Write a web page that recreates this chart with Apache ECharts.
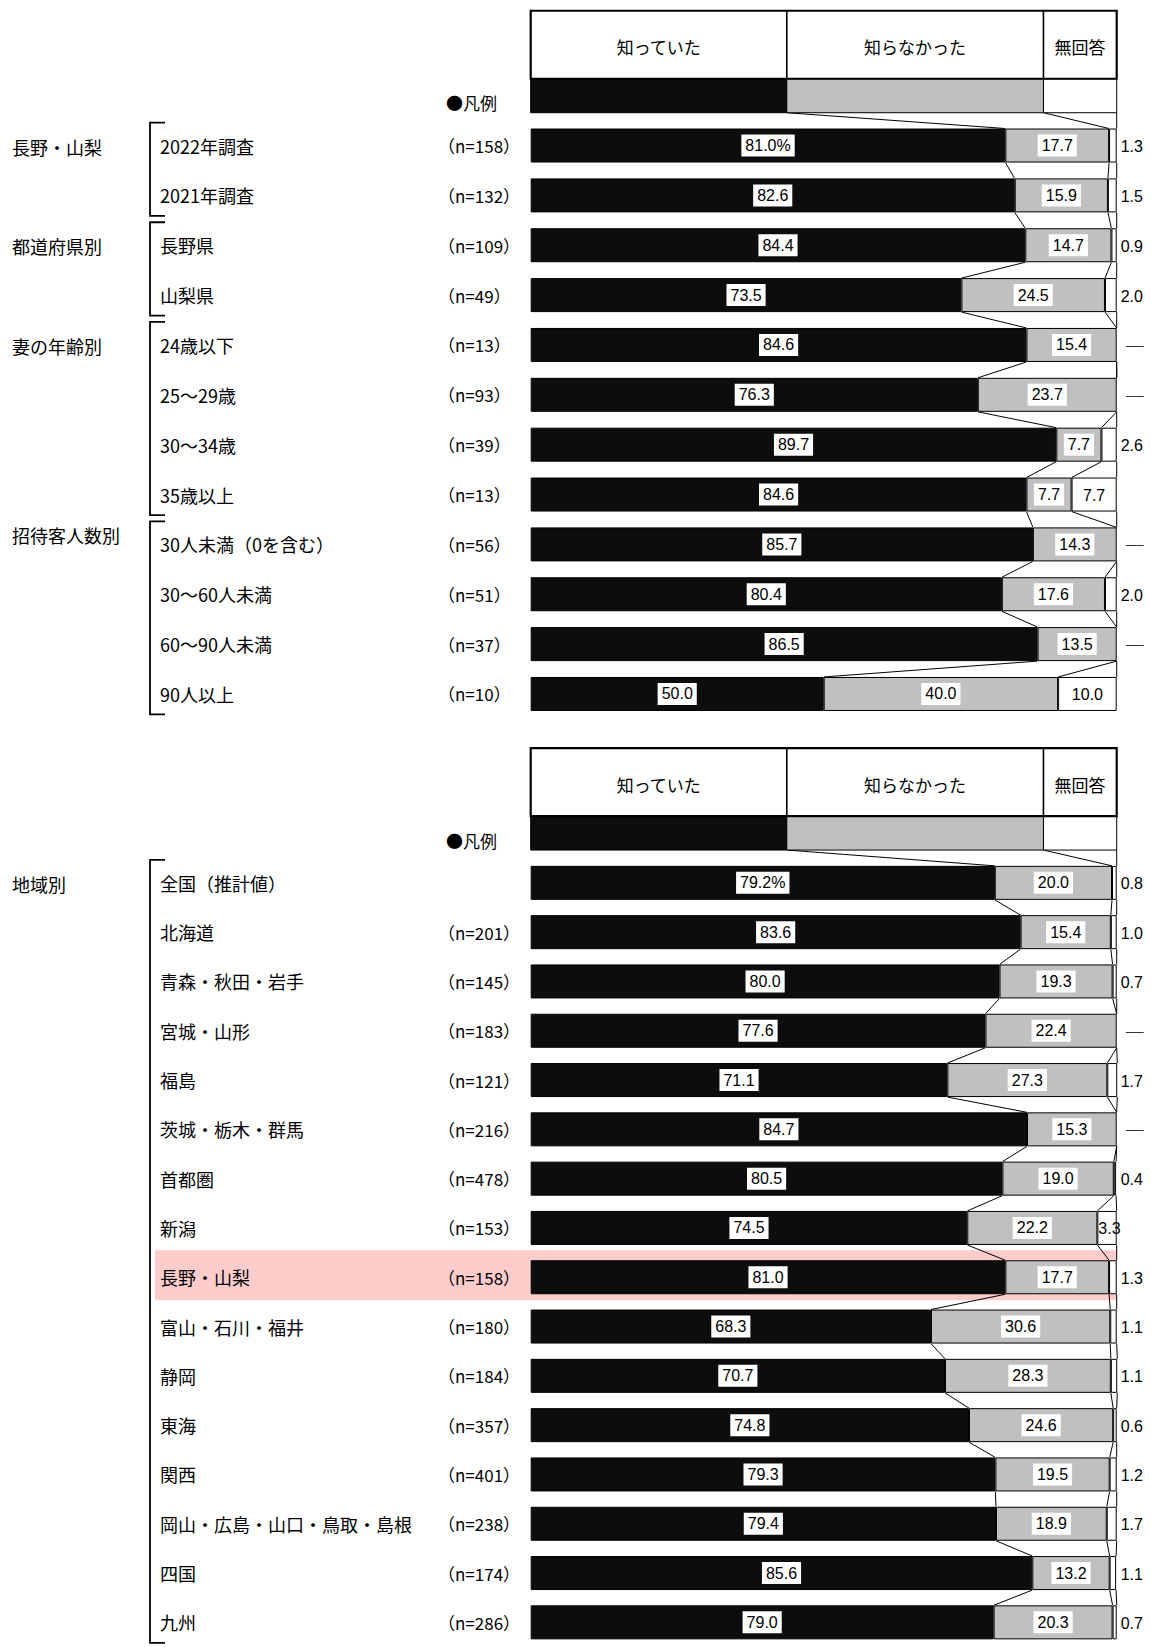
<!DOCTYPE html>
<html><head><meta charset="utf-8">
<script src="https://cdn.jsdelivr.net/npm/echarts@6/dist/echarts.min.js"></script>
<style>html,body{margin:0;padding:0;background:#fff}#c{width:1151px;height:1647px}</style>
</head><body><div id="c"></div>
<script>
// ---------- DATA ----------
const headerLabels = ['知っていた', '知らなかった', '無回答'];
const legendShares = [43.7, 43.8, 12.5];

const topCategories = ['2022年調査','2021年調査','長野県','山梨県','24歳以下','25～29歳','30～34歳','35歳以上','30人未満（0を含む）','30～60人未満','60～90人未満','90人以上'];
const topN = [158,132,109,49,13,93,39,13,56,51,37,10];
const topKnew = [81.0,82.6,84.4,73.5,84.6,76.3,89.7,84.6,85.7,80.4,86.5,50.0];
const topDidNot = [17.7,15.9,14.7,24.5,15.4,23.7,7.7,7.7,14.3,17.6,13.5,40.0];
const topNoAns = [1.3,1.5,0.9,2.0,0,0,2.6,7.7,0,2.0,0,10.0];
const topGroupNames = ['長野・山梨','都道府県別','妻の年齢別','招待客人数別'];
const topGroupStart = [0,2,4,8];
const topGroupEnd = [1,3,7,11];

const bottomCategories = ['全国（推計値）','北海道','青森・秋田・岩手','宮城・山形','福島','茨城・栃木・群馬','首都圏','新潟','長野・山梨','富山・石川・福井','静岡','東海','関西','岡山・広島・山口・鳥取・島根','四国','九州'];
const bottomN = [null,201,145,183,121,216,478,153,158,180,184,357,401,238,174,286];
const bottomKnew = [79.2,83.6,80.0,77.6,71.1,84.7,80.5,74.5,81.0,68.3,70.7,74.8,79.3,79.4,85.6,79.0];
const bottomDidNot = [20.0,15.4,19.3,22.4,27.3,15.3,19.0,22.2,17.7,30.6,28.3,24.6,19.5,18.9,13.2,20.3];
const bottomNoAns = [0.8,1.0,0.7,0,1.7,0,0.4,3.3,1.3,1.1,1.1,0.6,1.2,1.7,1.1,0.7];
const bottomGroupNames = ['地域別'];
const bottomGroupStart = [0];
const bottomGroupEnd = [15];
const highlightCategory = '長野・山梨';

// ---------- LAYOUT ----------
const GRID_LEFT = 530.7, GRID_RIGHT = 34.3;
const BAR_H = 34;
const JP = '"Noto Sans CJK JP", sans-serif';
const NUM = '"Liberation Sans", Arial, sans-serif';
const BLACK = '#0d0d0d', GRAY = '#c0c0c0';

const chart = echarts.init(document.getElementById('c'), null, {renderer: 'svg'});

function txt(text, x, y, align, font) {
  return {type: 'text', style: {text, x, y, align, verticalAlign: 'middle',
    textAlign: align, textVerticalAlign: 'middle', font, fill: '#000'}};
}

function decorRenderer(knew, didnot, noans) {
  return function (params, api) {
    const i = api.value(1);
    const X = v => api.coord([v, i])[0];
    const cy = api.coord([0, i])[1];
    const top = cy - BAR_H / 2;
    const ch = [];
    const cur = [knew[i], knew[i] + didnot[i], knew[i] + didnot[i] + noans[i]];
    let prev, prevY;
    if (i === 0) {
      prev = [legendShares[0], legendShares[0] + legendShares[1], 100];
      prevY = top - 15.8;
    } else {
      prev = [knew[i-1], knew[i-1] + didnot[i-1], knew[i-1] + didnot[i-1] + noans[i-1]];
      prevY = api.coord([0, i - 1])[1] + BAR_H / 2;
    }
    for (let k = 0; k < 3; k++) {
      ch.push({type: 'line', shape: {x1: X(prev[k]), y1: prevY, x2: X(cur[k]), y2: top},
               style: {stroke: '#000', lineWidth: 1}});
    }
    // no-answer label
    const v = noans[i];
    if (v === 0) ch.push(txt('─', X(100) + 9, cy, 'left', '18px ' + JP));
    else if (v >= 5) ch.push(txt(v.toFixed(1), (X(cur[1]) + X(cur[2])) / 2, cy + 1, 'center', '16px ' + NUM));
    else if (v >= 3) ch.push(txt(v.toFixed(1), X(cur[1]) + 1, cy + 1, 'left', '16px ' + NUM));
    else ch.push(txt(v.toFixed(1), X(100) + 4, cy + 1, 'left', '16px ' + NUM));

    if (i === 0) {
      const hTop = top - 117.8, hBot = top - 49.8, lBot = top - 15.8;
      const b = [0, legendShares[0], legendShares[0] + legendShares[1], 100];
      ch.push({type: 'rect', shape: {x: X(b[0]), y: hBot, width: X(b[1]) - X(b[0]), height: lBot - hBot}, style: {fill: BLACK, stroke: '#000', lineWidth: 1}});
      ch.push({type: 'rect', shape: {x: X(b[1]), y: hBot, width: X(b[2]) - X(b[1]), height: lBot - hBot}, style: {fill: GRAY, stroke: '#000', lineWidth: 1}});
      ch.push({type: 'rect', shape: {x: X(b[2]), y: hBot, width: X(b[3]) - X(b[2]), height: lBot - hBot}, style: {fill: '#fff', stroke: '#000', lineWidth: 1}});
      ch.push({type: 'rect', shape: {x: X(0), y: hTop, width: X(100) - X(0), height: hBot - hTop}, style: {fill: '#fff', stroke: '#000', lineWidth: 2.2}});
      ch.push({type: 'line', shape: {x1: X(b[1]), y1: hTop, x2: X(b[1]), y2: hBot}, style: {stroke: '#000', lineWidth: 1.6}});
      ch.push({type: 'line', shape: {x1: X(b[2]), y1: hTop, x2: X(b[2]), y2: hBot}, style: {stroke: '#000', lineWidth: 1.6}});
      for (let k = 0; k < 3; k++) {
        ch.push(txt(headerLabels[k], (X(b[k]) + X(b[k+1])) / 2, (hTop + hBot) / 2 + 2, 'center', '17px ' + JP));
      }
      ch.push(txt('●凡例', 446, lBot - 10, 'left', '17px ' + JP));
    }
    return {type: 'group', children: ch};
  };
}

function bracketRenderer(names, starts, ends, shifts) {
  return function (params, api) {
    const g = api.value(2);
    const y0 = api.coord([0, starts[g]])[1];
    const y1 = api.coord([0, ends[g]])[1];
    const t = y0 - 23, bm = y1 + 20.5;
    return {type: 'group', children: [
      {type: 'polyline', shape: {points: [[165, t], [150, t], [150, bm], [165, bm]]}, style: {stroke: '#000', lineWidth: 1.8, fill: null}},
      txt(names[g], 12, y0 + 1 + (shifts[g] || 0), 'left', '18px ' + JP)
    ]};
  };
}

function barLabel(pct) {
  return {show: true, position: 'inside', color: '#000', backgroundColor: '#fff', padding: [3, 4],
    fontSize: 16, fontFamily: NUM,
    formatter: p => (pct && p.dataIndex === 0) ? p.value.toFixed(1) + '%' : p.value.toFixed(1)};
}

function yAxisFor(gi, cats, ns) {
  return {type: 'category', gridIndex: gi, data: cats, inverse: true, z: 3,
    axisLine: {show: false}, axisTick: {show: false},
    axisLabel: {interval: 0, align: 'left', margin: GRID_LEFT - 160, color: '#000',
      formatter: (val, idx) => '{a|' + val + '}' + (ns[idx] != null ? '{b|（n=' + ns[idx] + '）}' : ''),
      rich: {a: {width: 278, fontSize: 18, fontFamily: JP, color: '#000'},
             b: {fontSize: 17, fontFamily: JP, color: '#000'}}}};
}

function barsFor(gi, stack, knew, didnot, noans) {
  return [
    {type: 'bar', xAxisIndex: gi, yAxisIndex: gi, stack, barWidth: BAR_H, z: 2,
     itemStyle: {color: BLACK, borderColor: '#000', borderWidth: 1}, label: barLabel(true), data: knew},
    {type: 'bar', xAxisIndex: gi, yAxisIndex: gi, stack, barWidth: BAR_H, z: 2,
     itemStyle: {color: GRAY, borderColor: '#000', borderWidth: 1}, label: barLabel(false), data: didnot},
    {type: 'bar', xAxisIndex: gi, yAxisIndex: gi, stack, barWidth: BAR_H, z: 2,
     itemStyle: {color: '#fff', borderColor: '#000', borderWidth: 1}, label: {show: false},
     data: noans.map(v => v === 0 ? '-' : v)},
    {type: 'custom', xAxisIndex: gi, yAxisIndex: gi, z: 4, silent: true, clip: false,
     renderItem: decorRenderer(knew, didnot, noans), encode: {x: 0, y: 1},
     data: knew.map((_, i) => [0, i])}
  ];
}

const hiIdx = bottomCategories.indexOf(highlightCategory);

const option = {
  animation: false,
  backgroundColor: '#fff',
  grid: [
    {left: GRID_LEFT, right: GRID_RIGHT, top: 120.6, height: 598.3},
    {left: GRID_LEFT, right: GRID_RIGHT, top: 858.2, height: 799.5}
  ],
  xAxis: [
    {type: 'value', gridIndex: 0, min: 0, max: 100, show: false},
    {type: 'value', gridIndex: 1, min: 0, max: 100, show: false}
  ],
  yAxis: [yAxisFor(0, topCategories, topN), yAxisFor(1, bottomCategories, bottomN)],
  series: [
    {type: 'custom', xAxisIndex: 1, yAxisIndex: 1, z: 1, silent: true, clip: false,
     encode: {x: 0, y: 1}, data: [[0, hiIdx]],
     renderItem: (params, api) => {
       const cy = api.coord([0, api.value(1)])[1];
       const xr = api.coord([100, api.value(1)])[0];
       return {type: 'rect', shape: {x: 155, y: cy - 27, width: xr - 155, height: 50}, style: {fill: '#ffcccc'}};
     }},
    ...barsFor(0, 'top', topKnew, topDidNot, topNoAns),
    ...barsFor(1, 'bottom', bottomKnew, bottomDidNot, bottomNoAns),
    {type: 'custom', xAxisIndex: 0, yAxisIndex: 0, z: 2, silent: true, clip: false, encode: {x: 0, y: 1},
     data: topGroupNames.map((_, g) => [0, topGroupStart[g], g]),
     renderItem: bracketRenderer(topGroupNames, topGroupStart, topGroupEnd, [0, 0, 0, -10])},
    {type: 'custom', xAxisIndex: 1, yAxisIndex: 1, z: 2, silent: true, clip: false, encode: {x: 0, y: 1},
     data: bottomGroupNames.map((_, g) => [0, bottomGroupStart[g], g]),
     renderItem: bracketRenderer(bottomGroupNames, bottomGroupStart, bottomGroupEnd, [0])}
  ]
};
chart.setOption(option);
</script></body></html>
